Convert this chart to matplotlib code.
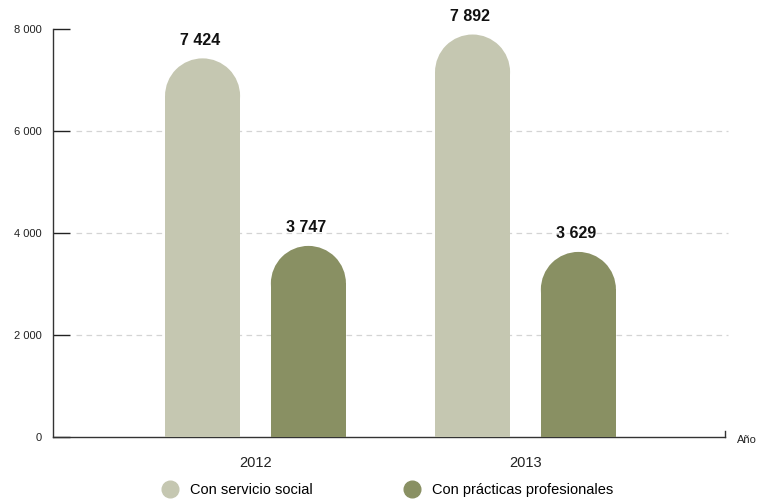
import matplotlib.pyplot as plt
from matplotlib.patches import Ellipse
from matplotlib.lines import Line2D

plt.rcParams['font.family'] = ['Liberation Sans', 'DejaVu Sans']

# datos
years = ['2012', '2013']
servicio = [7424, 7892]
practicas = [3747, 3629]
series_names = ['Con servicio social', 'Con prácticas profesionales']
colors = ['#c5c7b1', '#899063']

fig = plt.figure(figsize=(7.58, 5.0), dpi=100)
ax = fig.add_axes([53 / 758, 63 / 500, 672 / 758, 408 / 500])

ymax = 8000
ax.set_ylim(0, ymax)
ax.set_xlim(-0.75, 1.739)

w = 0.278
off = 0.196
# radio de la tapa redonda en unidades de y (semicírculo en píxeles)
ax_h_px = 408
px_per_x = 270
r_y = (w / 2) * px_per_x * ymax / ax_h_px

for vals, sign, col in [(servicio, -1, colors[0]), (practicas, 1, colors[1])]:
    for i, v in enumerate(vals):
        x = i + sign * off
        ax.bar(x, v - r_y, width=w, color=col, zorder=3, linewidth=0)
        ax.add_patch(Ellipse((x, v - r_y), w, 2 * r_y, color=col, zorder=3, linewidth=0))
        ax.text(x - 0.01, v + 18 * ymax / ax_h_px, f'{v:,}'.replace(',', ' '),
                ha='center', va='center', fontsize=11.5, fontweight='bold', color='#111111')

# rejilla punteada
for g in [2000, 4000, 6000]:
    ax.plot([-0.665, 1.75], [g, g], color='#d4d4d4', linewidth=0.9,
            linestyle=(0, (4.5, 3.5)), zorder=1, clip_on=False)

ax.set_yticks([0, 2000, 4000, 6000, 8000])
ax.set_yticklabels(['0', '2 000', '4 000', '6 000', '8 000'])
ax.tick_params(axis='y', direction='in', length=12.5, width=1, color='#222222',
               labelsize=8, pad=8, labelcolor='#222222')
ax.set_xticks([0, 1])
ax.set_xticklabels(years)
ax.tick_params(axis='x', length=0, labelsize=10.5, pad=14, labelcolor='#222222')

for s in ['top', 'right']:
    ax.spines[s].set_visible(False)
for s in ['left', 'bottom']:
    ax.spines[s].set_color('#333333')
    ax.spines[s].set_linewidth(1)

# pequeño tick al final del eje x
ax.plot([1.739, 1.739], [0, 6 * ymax / ax_h_px], color='#333333', linewidth=1, clip_on=False)
fig.text(737 / 758, 1 - 440 / 500, 'Año', fontsize=8, va='center', ha='left', color='#222222')

handles = [Line2D([], [], marker='o', linestyle='', markersize=12, color=c) for c in colors]
fig.legend(handles, series_names, loc='center left', bbox_to_anchor=(161 / 758, 1 - 490 / 500),
           ncol=2, frameon=False, fontsize=10.5, handletextpad=0.77, columnspacing=6.2,
           borderpad=0, borderaxespad=0, handlelength=1.2)

fig.savefig('out.png', dpi=100)
